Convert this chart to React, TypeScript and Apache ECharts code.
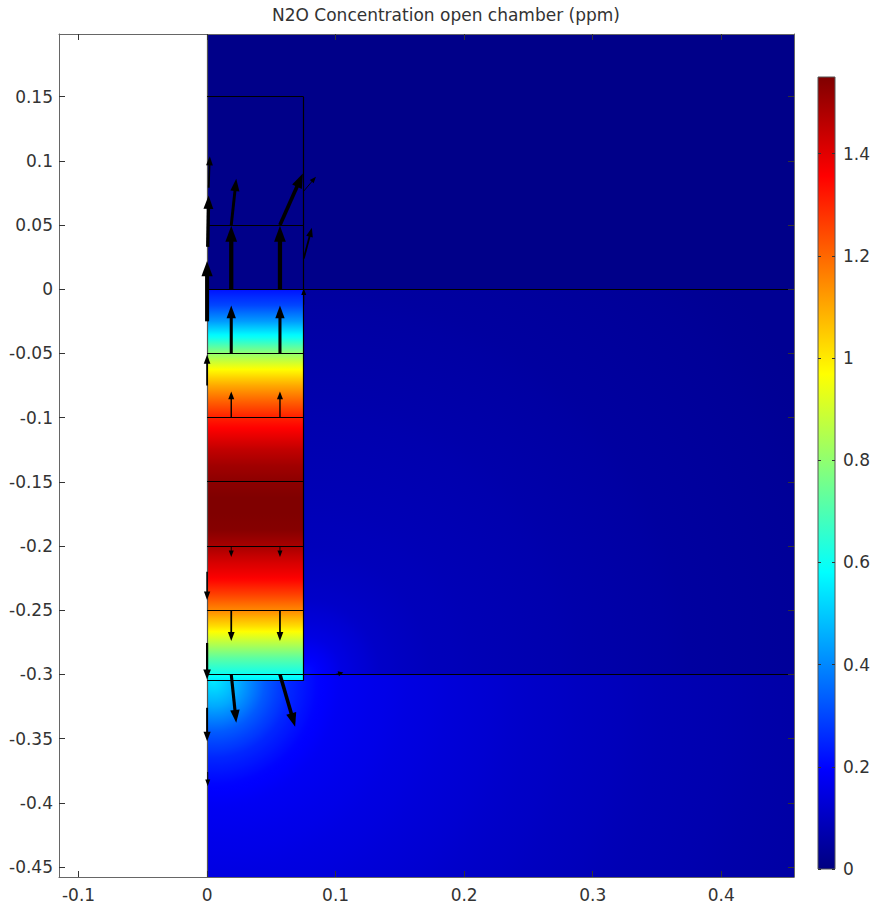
import React, { useEffect, useRef } from "react";
import * as echarts from "echarts";

// ---------- text ----------
const TITLE = "N2O Concentration open chamber (ppm)";

// ---------- axes (m) ----------
const X_MIN = -0.1152;
const X_MAX = 0.4566;
const Y_MIN = -0.4578;
const Y_MAX = 0.1988;
const xTicks = [-0.1, 0, 0.1, 0.2, 0.3, 0.4];
const yTicks = [0.15, 0.1, 0.05, 0, -0.05, -0.1, -0.15, -0.2, -0.25, -0.3, -0.35, -0.4, -0.45];

// ---------- colour scale (ppm) ----------
const C_MIN = 0;
const C_MAX = 1.55;
const colorbarTicks = [0, 0.2, 0.4, 0.6, 0.8, 1, 1.2, 1.4];

// ---------- concentration field (ppm) ----------
// air above the soil surface
const airConc = 0.015;
// chamber soil column (x 0 .. 0.075), concentration by depth
const columnDepth = [0, -0.0125, -0.025, -0.0375, -0.05, -0.0625, -0.075, -0.0875, -0.1, -0.1125, -0.125, -0.1375, -0.15, -0.1625, -0.175, -0.1875, -0.2, -0.2125, -0.225, -0.2375, -0.25, -0.2625, -0.275, -0.2875, -0.3, -0.305];
const columnConc = [0.22, 0.3, 0.43, 0.6, 0.8, 0.97, 1.1, 1.21, 1.31, 1.38, 1.45, 1.5, 1.53, 1.55, 1.55, 1.54, 1.49, 1.42, 1.36, 1.26, 1.15, 1.02, 0.87, 0.72, 0.6, 0.55];
// plume below the column: distance from its source point
const belowSource = [0.005, -0.305];
const belowDist = [0, 0.02, 0.04, 0.06, 0.08, 0.1, 0.15, 0.25, 0.35, 0.5];
const belowConc = [0.55, 0.45, 0.33, 0.25, 0.2, 0.175, 0.15, 0.11, 0.08, 0.05];
// soil beside the column: distance from column's lower corner
const soilSource = [0.075, -0.3];
const soilDist = [0, 0.03, 0.06, 0.1, 0.2, 0.3, 0.45];
const soilConc = [0.22, 0.15, 0.11, 0.09, 0.07, 0.05, 0.03];

// ---------- domain regions [x0, y0, x1, y1] ----------
const airRegion = [0, 0, 0.5, 0.2];
const columnRegion = [0, -0.305, 0.075, 0];
const soilRegion = [0.075, -0.3, 0.5, 0];
const belowRegion = [0, -0.5, 0.5, -0.3];

// ---------- geometry edges [x0, y0, x1, y1] ----------
const edges = [
  [0, 0.15, 0.075, 0.15],
  [0.075, 0.15, 0.075, -0.305],
  [0, 0.05, 0.075, 0.05],
  [0, 0, 0.5, 0],
  [0, -0.05, 0.075, -0.05],
  [0, -0.1, 0.075, -0.1],
  [0, -0.15, 0.075, -0.15],
  [0, -0.2, 0.075, -0.2],
  [0, -0.25, 0.075, -0.25],
  [0, -0.3, 0.5, -0.3],
  [0, -0.305, 0.075, -0.305],
];
const domainBoundary = [[0, -0.5, 0, 0.2]];

// ---------- flux arrows [x0, y0, x1, y1] ----------
const arrows = [
  [0, -0.025, 0, 0.022],
  [0.0005, 0.033, 0.0012, 0.073],
  [0.0013, 0.079, 0.0021, 0.1035],
  [0.0188, 0, 0.0188, 0.0494],
  [0.0188, 0.05, 0.0227, 0.086],
  [0.0567, 0, 0.0567, 0.0494],
  [0.0567, 0.05, 0.0745, 0.0901],
  [0.0752, 0.0764, 0.0847, 0.0876],
  [0.0752, 0.0239, 0.0815, 0.0478],
  [0.0752, -0.012, 0.0752, 0.0005],
  [0.0188, -0.05, 0.0188, -0.0127],
  [0.0567, -0.05, 0.0567, -0.0127],
  [0.0188, -0.1, 0.0188, -0.0796],
  [0.0567, -0.1, 0.0567, -0.0796],
  [0.0188, -0.2, 0.0188, -0.2086],
  [0.0567, -0.2, 0.0567, -0.2086],
  [0.0188, -0.25, 0.0188, -0.274],
  [0.0567, -0.25, 0.0567, -0.274],
  [0.0188, -0.3, 0.0227, -0.3376],
  [0.0567, -0.3, 0.0685, -0.3408],
  [0, -0.075, 0, -0.051],
  [0, -0.22, 0, -0.242],
  [0, -0.2755, 0, -0.304],
  [0, -0.326, 0, -0.352],
  [0.0005, -0.376, 0.0005, -0.387],
  [0.1, -0.3, 0.106, -0.2985],
];

// ---------- helpers ----------
function jet(v: number): string {
  const t = Math.max(0, Math.min(1, (v - C_MIN) / (C_MAX - C_MIN)));
  const f = (a: number) => Math.round(255 * Math.max(0, Math.min(1, a)));
  const r = f(Math.min(4 * t - 1.5, -4 * t + 4.5));
  const g = f(Math.min(4 * t - 0.5, -4 * t + 3.5));
  const b = f(Math.min(4 * t + 0.5, -4 * t + 2.5));
  return `rgb(${r},${g},${b})`;
}

function ramp(pos: number[], vals: number[], sub = 6) {
  const stops: { offset: number; color: string }[] = [];
  for (let i = 0; i < pos.length - 1; i++) {
    for (let k = 0; k < sub; k++) {
      const f = k / sub;
      stops.push({
        offset: pos[i] + (pos[i + 1] - pos[i]) * f,
        color: jet(vals[i] + (vals[i + 1] - vals[i]) * f),
      });
    }
  }
  stops.push({ offset: pos[pos.length - 1], color: jet(vals[vals.length - 1]) });
  return stops;
}

function rectOf(api: any) {
  const a = api.coord([api.value(0), api.value(3)]);
  const b = api.coord([api.value(2), api.value(1)]);
  return { x: a[0], y: a[1], width: b[0] - a[0], height: b[1] - a[1] };
}

const FONT = "DejaVu Sans";
const TEXT = { fontFamily: FONT, fontSize: 17, color: "#333" };
const FRAME = "#666";
const TICK = "#333";

function buildOption(): any {
  const fieldBase = {
    type: "custom",
    coordinateSystem: "cartesian2d",
    xAxisIndex: 0,
    yAxisIndex: 0,
    clip: true,
    silent: true,
    z: 1,
  };

  const radialSeries = (name: string, region: number[], src: number[], dist: number[], conc: number[]) => ({
    ...fieldBase,
    name,
    data: [region],
    renderItem: (_p: any, api: any) => {
      const s = rectOf(api);
      const c = api.coord(src);
      const maxD = dist[dist.length - 1];
      const r = api.size([maxD, 0])[0];
      return {
        type: "rect",
        shape: s,
        style: {
          fill: {
            type: "radial",
            x: c[0],
            y: c[1],
            r,
            global: true,
            colorStops: ramp(dist.map((d) => d / maxD), conc),
          },
        },
      };
    },
  });

  const lineSeries = (name: string, data: number[][], color: string) => ({
    type: "custom",
    name,
    coordinateSystem: "cartesian2d",
    xAxisIndex: 0,
    yAxisIndex: 0,
    clip: true,
    silent: true,
    z: 2,
    data,
    renderItem: (_p: any, api: any) => {
      const a = api.coord([api.value(0), api.value(1)]);
      const b = api.coord([api.value(2), api.value(3)]);
      const snap = (v: number) => Math.round(v - 0.5) + 0.5;
      const horiz = Math.abs(a[1] - b[1]) < 0.5;
      const vert = Math.abs(a[0] - b[0]) < 0.5;
      return {
        type: "line",
        shape: {
          x1: vert ? snap(a[0]) : a[0],
          y1: horiz ? snap(a[1]) : a[1],
          x2: vert ? snap(b[0]) : b[0],
          y2: horiz ? snap(b[1]) : b[1],
        },
        style: { stroke: color, lineWidth: 1.2 },
      };
    },
  });

  return {
    animation: false,
    backgroundColor: "#fff",
    title: {
      text: TITLE,
      left: 446,
      top: 6,
      textAlign: "center",
      padding: 0,
      textStyle: { fontFamily: FONT, fontSize: 17, fontWeight: "normal", color: "#333" },
    },
    grid: [
      { left: 59, top: 34, width: 735, height: 843, show: false },
      { left: 818, top: 77, width: 17, height: 792, show: false },
    ],
    xAxis: [
      {
        type: "value",
        gridIndex: 0,
        position: "bottom",
        min: X_MIN,
        max: X_MAX,
        z: 5,
        splitLine: { show: false },
        axisLine: { show: true, onZero: false, lineStyle: { color: FRAME, width: 1 } },
        axisTick: { show: true, inside: true, length: 6, customValues: xTicks, lineStyle: { color: TICK } },
        axisLabel: { show: true, customValues: xTicks, margin: 9, ...TEXT },
      },
      {
        type: "value",
        gridIndex: 0,
        position: "top",
        min: X_MIN,
        max: X_MAX,
        z: 5,
        splitLine: { show: false },
        axisLine: { show: true, onZero: false, lineStyle: { color: FRAME, width: 1 } },
        axisTick: { show: true, inside: true, length: 6, customValues: xTicks, lineStyle: { color: TICK } },
        axisLabel: { show: false },
      },
      { type: "value", gridIndex: 1, min: 0, max: 1, show: false },
    ],
    yAxis: [
      {
        type: "value",
        gridIndex: 0,
        position: "left",
        min: Y_MIN,
        max: Y_MAX,
        z: 5,
        splitLine: { show: false },
        axisLine: { show: true, onZero: false, lineStyle: { color: FRAME, width: 1 } },
        axisTick: { show: true, inside: true, length: 6, customValues: yTicks, lineStyle: { color: TICK } },
        axisLabel: { show: true, customValues: yTicks, margin: 6, ...TEXT },
      },
      {
        type: "value",
        gridIndex: 0,
        position: "right",
        min: Y_MIN,
        max: Y_MAX,
        z: 5,
        splitLine: { show: false },
        axisLine: { show: true, onZero: false, lineStyle: { color: FRAME, width: 1 } },
        axisTick: { show: true, inside: true, length: 6, customValues: yTicks, lineStyle: { color: TICK } },
        axisLabel: { show: false },
      },
      {
        type: "value",
        gridIndex: 1,
        position: "left",
        min: C_MIN,
        max: C_MAX,
        z: 5,
        splitLine: { show: false },
        axisLine: { show: false, onZero: false },
        axisTick: { show: true, inside: true, length: 3, customValues: colorbarTicks, lineStyle: { color: TICK } },
        axisLabel: { show: false },
      },
      {
        type: "value",
        gridIndex: 1,
        position: "right",
        min: C_MIN,
        max: C_MAX,
        z: 5,
        splitLine: { show: false },
        axisLine: { show: false, onZero: false },
        axisTick: { show: true, inside: true, length: 3, customValues: colorbarTicks, lineStyle: { color: TICK } },
        axisLabel: { show: true, customValues: colorbarTicks, margin: 8, ...TEXT },
      },
    ],
    series: [
      {
        ...fieldBase,
        name: "air",
        data: [airRegion],
        renderItem: (_p: any, api: any) => ({
          type: "rect",
          shape: rectOf(api),
          style: { fill: jet(airConc) },
        }),
      },
      radialSeries("soil", soilRegion, soilSource, soilDist, soilConc),
      radialSeries("below", belowRegion, belowSource, belowDist, belowConc),
      {
        ...fieldBase,
        name: "column",
        data: [columnRegion],
        renderItem: (_p: any, api: any) => {
          const s = rectOf(api);
          const top = api.value(3);
          const bottom = api.value(1);
          const pos = columnDepth.map((d) => (top - d) / (top - bottom));
          return {
            type: "rect",
            shape: s,
            style: {
              fill: {
                type: "linear",
                x: 0,
                y: s.y,
                x2: 0,
                y2: s.y + s.height,
                global: true,
                colorStops: ramp(pos, columnConc),
              },
            },
          };
        },
      },
      lineSeries("boundary", domainBoundary, "#555"),
      lineSeries("edges", edges, "#000"),
      {
        type: "custom",
        name: "flux",
        coordinateSystem: "cartesian2d",
        xAxisIndex: 0,
        yAxisIndex: 0,
        clip: true,
        silent: true,
        z: 3,
        data: arrows,
        renderItem: (_p: any, api: any) => {
          const p0 = api.coord([api.value(0), api.value(1)]);
          const p1 = api.coord([api.value(2), api.value(3)]);
          const dx = p1[0] - p0[0];
          const dy = p1[1] - p0[1];
          const len = Math.hypot(dx, dy) || 1;
          const ux = dx / len;
          const uy = dy / len;
          const w = Math.max(0.9, Math.min(4.3, (len - 8) / 13));
          const headL = Math.min(len * 0.65, 4 + w * 2.8);
          const headW = 1.6 + w;
          const bx = p1[0] - ux * headL;
          const by = p1[1] - uy * headL;
          const nx = -uy;
          const ny = ux;
          return {
            type: "group",
            children: [
              {
                type: "line",
                shape: { x1: p0[0], y1: p0[1], x2: bx + ux, y2: by + uy },
                style: { stroke: "#000", lineWidth: w },
              },
              {
                type: "polygon",
                shape: {
                  points: [
                    [p1[0], p1[1]],
                    [bx + nx * headW, by + ny * headW],
                    [bx - nx * headW, by - ny * headW],
                  ],
                },
                style: { fill: "#000" },
              },
            ],
          };
        },
      },
      {
        type: "custom",
        name: "colorbar",
        coordinateSystem: "cartesian2d",
        xAxisIndex: 2,
        yAxisIndex: 2,
        silent: true,
        z: 1,
        data: [[0, C_MIN, 1, C_MAX]],
        renderItem: (_p: any, api: any) => {
          const s = rectOf(api);
          return {
            type: "rect",
            shape: s,
            style: {
              stroke: "#555",
              lineWidth: 1,
              fill: {
                type: "linear",
                x: 0,
                y: s.y + s.height,
                x2: 0,
                y2: s.y,
                global: true,
                colorStops: ramp([0, 1], [C_MIN, C_MAX], 8),
              },
            },
          };
        },
      },
    ],
  };
}

export default function App() {
  const ref = useRef<HTMLDivElement>(null);
  useEffect(() => {
    if (!ref.current) return;
    const chart = echarts.init(ref.current, undefined, { renderer: "svg" });
    chart.setOption(buildOption());
    return () => chart.dispose();
  }, []);
  return (
    <div
      ref={ref}
      style={{ position: "fixed", left: 0, top: 0, width: 874, height: 913, background: "#fff" }}
    />
  );
}
